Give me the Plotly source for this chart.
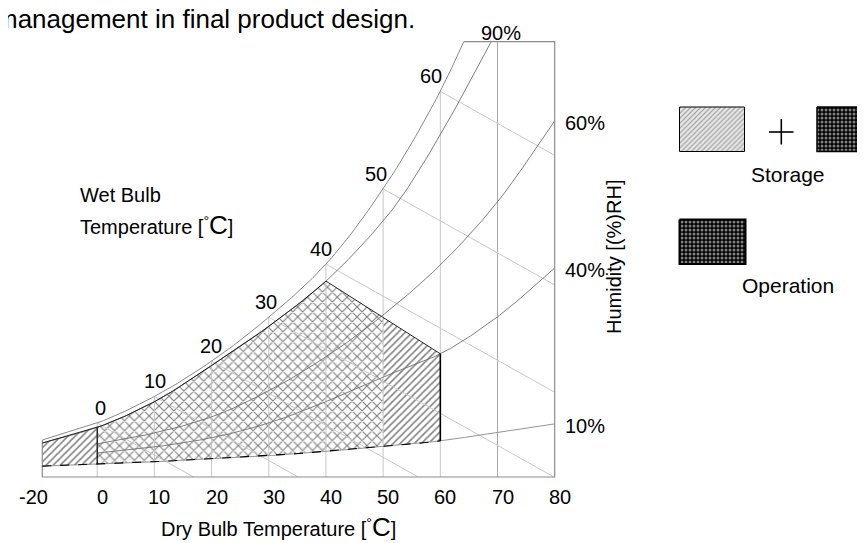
import numpy as np
import plotly.graph_objects as go

W, H = 865, 543

# ---------------- data ----------------
# Dry-bulb temperatures (deg C) at which each curve was read, and curve heights
# in chart units (bottom of chart = 0, top of chart = 100).
SAT_T = [-20, 0, 10, 20, 30, 40, 50, 60, 64.1]
SAT_H = [8.5, 12.4, 18.5, 26.6, 36.7, 48.9, 66.2, 88.6, 100.0]

RH90_T = [-20, 0, 10, 20, 30, 40, 50, 53.1, 60, 68.9]
RH90_H = [7.8, 11.4, 17.3, 25.6, 34.6, 45.0, 58.8, 64.1, 78.6, 100.0]

RH_T = [-20, 0, 10, 20, 30, 40, 50, 60, 70, 80]
RH60_H = [5.7, 7.6, 10.1, 13.8, 19.8, 27.6, 37.2, 48.7, 63.2, 81.8]
RH40_H = [4.4, 5.5, 6.9, 9.0, 12.4, 17.3, 23.0, 28.3, 36.8, 48.0]
RH10_H = [2.5, 2.9, 3.5, 4.2, 4.9, 5.9, 7.0, 8.3, 10.3, 12.2]

XTICK_T = [-20, 0, 10, 20, 30, 40, 50, 60, 70, 80]
XTICK_TEXT = ["-20", "0", "10", "20", "30", "40", "50", "60", "70", "80"]
DB_GRID_T = [0, 10, 20, 30, 40, 50, 60, 70]
WB_T = [0, 10, 20, 30, 40, 50, 60]
WB_LABELS = ["0", "10", "20", "30", "40", "50", "60"]
WB_SLOPE = -0.736          # chart units per deg C along a wet-bulb line

STORAGE_RANGE = (-20, 60)
OPERATION_RANGE = (0, 50)
LIMIT_PEAK_T = 40          # upper limit follows 90 %RH up to here
LIMIT_CORNER_T = 60        # ... then a straight line to the 40 %RH curve at 60 C
RH_MID_START_T = 0         # 60 % and 40 % curves start at 0 C

NEG_SCALE = 0.48           # the -20..0 part of the axis is compressed


# ---------------- helpers ----------------
def u(T):
    T = np.asarray(T, float)
    return np.where(T < 0, T * NEG_SCALE, T)


def pchip(x, y, xq):
    x = np.asarray(x, float); y = np.asarray(y, float); xq = np.asarray(xq, float)
    h = np.diff(x); d = np.diff(y) / h
    n = len(x); m = np.zeros(n)
    for k in range(1, n - 1):
        if d[k - 1] * d[k] > 0:
            w1 = 2 * h[k] + h[k - 1]; w2 = h[k] + 2 * h[k - 1]
            m[k] = (w1 + w2) / (w1 / d[k - 1] + w2 / d[k])
    m[0] = d[0]; m[-1] = d[-1]
    i = np.clip(np.searchsorted(x, xq) - 1, 0, n - 2)
    t = (xq - x[i]) / h[i]
    h00 = 2 * t**3 - 3 * t**2 + 1; h10 = t**3 - 2 * t**2 + t
    h01 = -2 * t**3 + 3 * t**2; h11 = t**3 - t**2
    return h00 * y[i] + h10 * h[i] * m[i] + h01 * y[i + 1] + h11 * h[i] * m[i + 1]


def curve(Ts, Hs, Tq):
    return pchip(u(Ts), Hs, u(Tq))


def sat(T):
    return np.minimum(curve(SAT_T, SAT_H, T), 100.0)


def rh90(T): return curve(RH90_T, RH90_H, T)
def rh40(T): return curve(RH_T, RH40_H, T)
def rh10(T): return curve(RH_T, RH10_H, T)


peak_h = float(rh90(LIMIT_PEAK_T))
corner_h = float(rh40(LIMIT_CORNER_T))


def top_limit(T):
    T = np.asarray(T, float)
    lin = peak_h + (corner_h - peak_h) * (T - LIMIT_PEAK_T) / (LIMIT_CORNER_T - LIMIT_PEAK_T)
    return np.where(T <= LIMIT_PEAK_T, rh90(T), lin)


def tgrid(a, b, n=160):
    t = np.linspace(a, b, n)
    if a < LIMIT_PEAK_T < b:
        t = np.sort(np.append(t, LIMIT_PEAK_T))
    return t


fig = go.Figure()
GRID = "#c8c8c8"
CURVE = "#707070"
BOX = "#8c8c8c"


def line(x, y, color, width=1.0, dash=None, xa="x", ya="y"):
    fig.add_trace(go.Scatter(x=x, y=y, mode="lines", xaxis=xa, yaxis=ya,
                             line=dict(color=color, width=width, dash=dash),
                             hoverinfo="skip", showlegend=False))


# --- hatched regions (storage + operation) ---
def region(a, b, shape, size, solidity):
    t = tgrid(a, b)
    xs = np.concatenate([u(t), u(t[::-1]), u(t[:1])])
    ys = np.concatenate([top_limit(t), rh10(t[::-1]), top_limit(t[:1])])
    fig.add_trace(go.Scatter(x=xs, y=ys, mode="lines", fill="toself",
                             fillcolor="rgba(0,0,0,0)", line=dict(width=0, color="rgba(0,0,0,0)"),
                             fillpattern=dict(shape=shape, size=size, solidity=solidity,
                                              fgcolor="#000000", bgcolor="rgba(0,0,0,0)"),
                             hoverinfo="skip", showlegend=False))


region(STORAGE_RANGE[0], OPERATION_RANGE[0], "/", 5, 0.3)
region(OPERATION_RANGE[0], OPERATION_RANGE[1], "x", 7, 0.3)
region(OPERATION_RANGE[1], STORAGE_RANGE[1], "/", 5, 0.3)

# --- dry-bulb verticals ---
for T in DB_GRID_T:
    line([u(T), u(T)], [0, float(sat(T))], "#a8a8a8" if T == 70 else GRID)

# --- wet-bulb lines ---
for T in WB_T:
    h0 = float(sat(T))
    h_end = h0 + WB_SLOPE * (XTICK_T[-1] - T)
    if h_end >= 0:
        line([u(T), XTICK_T[-1]], [h0, h_end], GRID)
    else:
        line([u(T), T - h0 / WB_SLOPE], [h0, 0], GRID)

# --- RH curves ---
t = np.linspace(RH90_T[0], RH90_T[-1], 300)
line(u(t), rh90(t), CURVE, 0.9)
t = np.linspace(RH_MID_START_T, RH_T[-1], 300)
line(u(t), curve(RH_T, RH60_H, t), CURVE, 0.9)
line(u(t), rh40(t), CURVE, 0.9)
t = np.linspace(RH_T[0], RH_T[-1], 300)
line(u(t), rh10(t), "#8a8a8a", 0.9)
# saturation
t = np.linspace(SAT_T[0], SAT_T[-1], 300)
line(u(t), curve(SAT_T, SAT_H, t), "#8a8a8a", 1.0)

# --- chart frame ---
x_lo, x_hi = float(u(XTICK_T[0])), float(XTICK_T[-1])
line([x_lo, x_lo, x_hi, x_hi, float(u(SAT_T[-1]))],
     [float(sat(XTICK_T[0])), 0, 0, 100, 100], BOX, 1.2)

# --- region outlines ---
t = tgrid(STORAGE_RANGE[0], STORAGE_RANGE[1])
line(u(t), top_limit(t), "#222222", 1.0)
line(u(t), rh10(t), "#000000", 1.1, dash="9px,9px")
for T, wdt in [(OPERATION_RANGE[0], 1.2), (STORAGE_RANGE[1], 1.6)]:
    line([u(T), u(T)], [float(rh10(T)), float(top_limit(T))], "#000000", wdt)

# ---------------- layout geometry ----------------
PX_L, PX_R, PX_T, PX_B = 34.3, 546.7, 33.7, 469.0
pxu = (PX_R - PX_L) / (x_hi - x_lo)
pyu = (PX_B - PX_T) / 100.0
pad = 2.0
xr = [x_lo - pad / pxu, x_hi + pad / pxu]
yr = [-pad / pyu, 100 + pad / pyu]
xdom = [(PX_L - pad) / W, (PX_R + pad) / W]
ydom = [(H - PX_B - pad) / H, (H - PX_T + pad) / H]

FONT = "Liberation Sans, Arial, sans-serif"
ann = []


def font(size=20):
    return dict(family=FONT, size=size, color="black")


def pa(x, y, text, size=20, xanchor="center", yanchor="middle", angle=0):
    ann.append(dict(x=x / W, y=1 - y / H, xref="paper", yref="paper", text=text,
                    showarrow=False, xanchor=xanchor, yanchor=yanchor, textangle=angle,
                    font=font(size)))


# x tick labels
for T, lab in zip(XTICK_T, XTICK_TEXT):
    ann.append(dict(x=float(u(T)), y=0, xref="x", yref="y", text=lab, showarrow=False,
                    xanchor="center", yanchor="middle", xshift=(-9 if T < 0 else 5),
                    yshift=-20, font=font(20)))

# wet-bulb labels on the saturation curve
for T, lab in zip(WB_T, WB_LABELS):
    ann.append(dict(x=float(u(T)), y=float(sat(T)), xref="x", yref="y", text=lab,
                    showarrow=False, xanchor="center", yanchor="middle",
                    xshift=3 - 0.2 * T, yshift=15, font=font(20)))

# RH labels
for lab, hv in [("60%", RH60_H[-1]), ("40%", RH40_H[-1]), ("10%", RH10_H[-1])]:
    ann.append(dict(x=x_hi, y=hv, xref="x", yref="y", text=lab, showarrow=False,
                    xanchor="left", yanchor="middle", xshift=8, yshift=-2, font=font(20)))
ann.append(dict(x=RH90_T[-1], y=100, xref="x", yref="y", text="90%", showarrow=False,
                xanchor="center", yanchor="middle", xshift=10, yshift=9, font=font(20)))

BIGC = "<span style='font-size:26px'>C</span>"
pa(409, 11, "management in final product design.", size=26, xanchor="right")
pa(70, 187, "Wet Bulb", xanchor="left")
pa(70, 217, "Temperature [<sup>°</sup>" + BIGC + "]", xanchor="left")
pa(270, 519, "Dry Bulb Temperature [<sup>°</sup>" + BIGC + "]")
pa(606, 249, "Humidity [(%)RH]", angle=-90)
pa(780, 166, "Storage", size=21)
pa(780, 277, "Operation", size=21)


# ---------------- legend boxes (pixel-space overlay axes) ----------------
def box(x0, x1, y0, y1, shape, size, solidity, fg, bg, lw):
    fig.add_trace(go.Scatter(x=[x0, x1, x1, x0, x0], y=[y0, y0, y1, y1, y0], mode="lines",
                             xaxis="x2", yaxis="y2", fill="toself", fillcolor="rgba(0,0,0,0)",
                             line=dict(color="black", width=lw),
                             fillpattern=dict(shape=shape, size=size, solidity=solidity,
                                              fgcolor=fg, bgcolor=bg),
                             hoverinfo="skip", showlegend=False))


box(671.5, 736.5, 99, 143.5, "/", 3.5, 0.35, "#5a5a5a", "#e8e8e8", 1.0)
box(809, 875, 99, 143.5, ".", 4, 0.45, "#ffffff", "#000000", 1.5)
box(671.5, 737.5, 211.5, 256, ".", 4, 0.45, "#ffffff", "#000000", 2.0)
line([773.3, 773.3], [111, 136.5], "black", 1.6, xa="x2", ya="y2")
line([761, 785.5], [124, 124], "black", 1.6, xa="x2", ya="y2")

fig.update_layout(
    width=W, height=H, margin=dict(l=0, r=0, t=0, b=0),
    paper_bgcolor="white", plot_bgcolor="rgba(0,0,0,0)",
    showlegend=False, hovermode=False, annotations=ann,
    xaxis=dict(domain=xdom, range=xr, showgrid=False, zeroline=False, showline=False,
               showticklabels=False, ticks="", fixedrange=True, automargin=False),
    yaxis=dict(domain=ydom, range=yr, showgrid=False, zeroline=False, showline=False,
               showticklabels=False, ticks="", fixedrange=True, automargin=False),
    xaxis2=dict(domain=[0, 1], range=[0, W], anchor="y2", visible=False, fixedrange=True),
    yaxis2=dict(domain=[0, 1], range=[H, 0], anchor="x2", visible=False, fixedrange=True),
)

fig.write_html("out.html")
